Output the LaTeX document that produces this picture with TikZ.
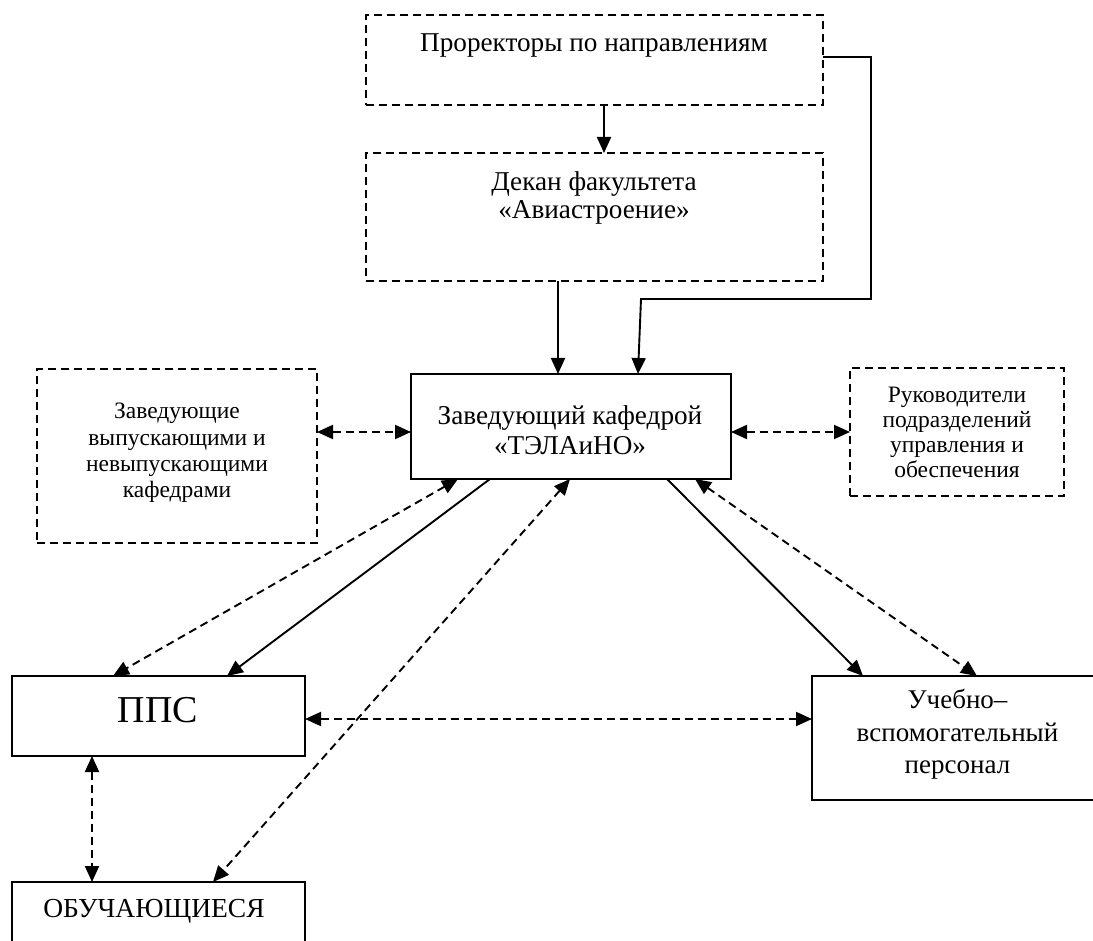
\documentclass[tikz,border=0pt]{standalone}
\usepackage{fontspec}
\setmainfont{Liberation Serif}
\usetikzlibrary{arrows.meta}
\begin{document}
\begin{tikzpicture}[x=1pt,y=-1pt,
  box/.style={draw, line width=2pt, inner sep=0pt, outer sep=0pt},
  dbox/.style={box, dash pattern=on 8pt off 5pt},
  txt/.style={inner sep=0pt, align=center},
  fmain/.style={font=\fontsize{27.2}{30}\selectfont},
  fside/.style={font=\fontsize{23.5}{26.3}\selectfont},
  tip/.tip={Triangle[length=16pt,width=14pt]},
  conn/.style={line width=1.9pt, -tip},
  dconn/.style={line width=1.9pt, dash pattern=on 8pt off 5pt, tip-tip}
]
\useasboundingbox (0,0) rectangle (1093,941);
\fill[white] (0,0) rectangle (1093,941);
\clip (0,0) rectangle (1093,941);

% boxes
\node[dbox, minimum width=457pt, minimum height=90pt] (A) at (594.5,60) {};
\node[dbox, minimum width=457pt, minimum height=128pt] (B) at (594.5,217) {};
\node[dbox, minimum width=280pt, minimum height=174pt] (L) at (177,456) {};
\node[dbox, minimum width=214pt, minimum height=128pt] (R) at (957,432) {};
\node[box, minimum width=320pt, minimum height=105pt] (Z) at (571,426.5) {};
\node[box, minimum width=293pt, minimum height=80pt] (P) at (158.5,716) {};
\node[box, minimum width=293pt, minimum height=118pt] (O) at (158.5,941) {};
\node[box, minimum width=338pt, minimum height=124pt] (U) at (981,738) {};

% texts
\node[txt, fmain, anchor=base] (tA) at (594,52) {Проректоры по направлениям};
\node[txt, font=\fontsize{27.2}{28}\selectfont] (tB) at (594,197.5) {Декан факультета\\«Авиастроение»};
\node[txt, fside] (tL) at (177,453) {Заведующие\\выпускающими и\\невыпускающими\\кафедрами};
\node[txt, font=\fontsize{23.5}{25}\selectfont] (tR) at (957,432) {Руководители\\подразделений\\управления и\\обеспечения};
\node[txt, fmain] (tZ) at (570,430.5) {Заведующий кафедрой\\«ТЭЛАиНО»};
\node[txt, font=\fontsize{38}{40}\selectfont, anchor=base] (tP) at (158,722) {ППС};
\node[txt, font=\fontsize{27.5}{29}\selectfont, anchor=base] (tO) at (154,917) {ОБУЧАЮЩИЕСЯ};
\node[txt, font=\fontsize{27}{32.5}\selectfont] (tU) at (957.5,734.5) {Учебно–\\вспомогательный\\персонал};

% connectors
\coordinate (bend) at (641,299);
\draw[conn] ([xshift=9.5pt]A.south) -- ([xshift=9.5pt]B.north);
\draw[conn] ([xshift=-36.5pt]B.south) -- ([xshift=-13pt]Z.north);
\draw[conn] ([yshift=3pt]A.east) -- ++(48,0) -- ++(0,242) -- (bend) -- ([xshift=67pt]Z.north);
\draw[dconn] ([yshift=24pt]L.east) -- ([yshift=-5.5pt]Z.west);
\draw[dconn] ([yshift=-5.5pt]Z.east) -- (R.west);
\draw[dconn] ([xshift=-113pt]Z.south) -- ([xshift=-45.5pt]P.north);
\draw[conn] ([xshift=-81pt]Z.south) -- ([xshift=68.5pt]P.north);
\draw[dconn] ([xshift=-1pt]Z.south) -- ([xshift=54.5pt]O.north);
\draw[conn] ([xshift=96pt]Z.south) -- ([xshift=-118pt]U.north);
\draw[dconn] ([xshift=124pt]Z.south) -- ([xshift=-4pt]U.north);
\draw[dconn] ([yshift=-3pt]P.east) -- ([yshift=19pt]U.west);
\draw[dconn] ([xshift=-66.5pt]P.south) -- ([xshift=-66.5pt]O.north);
\end{tikzpicture}
\end{document}
